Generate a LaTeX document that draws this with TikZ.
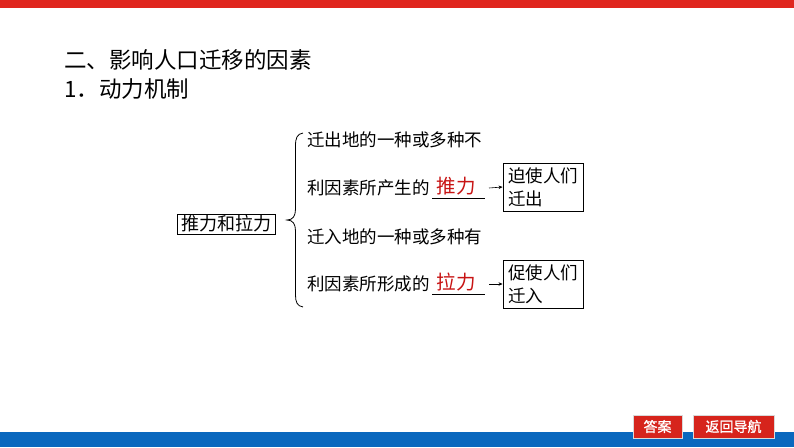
\documentclass[tikz,border=0pt]{standalone}
\usepackage{fontspec}
\newfontfamily\cjk{Noto Sans CJK SC}
\newfontfamily\cjkb[FakeBold=1.2]{Noto Sans CJK SC}
\usetikzlibrary{arrows.meta}
\definecolor{topred}{RGB}{224,38,30}
\definecolor{botblue}{RGB}{10,104,190}
\definecolor{btnred}{RGB}{214,36,28}
\definecolor{ansred}{RGB}{200,20,20}
\tikzset{
  txt/.style={anchor=west,inner sep=0pt,font=\cjk\fontsize{17.5}{20}\selectfont},
  title/.style={anchor=west,inner sep=0pt,font=\cjk\fontsize{22.5}{26}\selectfont},
  ans/.style={inner sep=0pt,text=ansred,font=\cjk\fontsize{19.5}{22}\selectfont},
  resbox/.style={draw,line width=0.9pt,text width=70pt,inner xsep=5pt,minimum height=48pt,inner ysep=0pt,align=left,font=\cjk\fontsize{17.5}{23}\selectfont},
  btn/.style={fill=btnred,draw=white!85!black,line width=0.8pt,text=white,minimum height=23pt,inner sep=0pt,font=\cjkb\fontsize{14}{16}\selectfont},
  conn/.style={line width=0.6pt,-{Stealth[length=4pt,width=3.5pt]}},
  uline/.style={line width=0.7pt}
}
\begin{document}
\begin{tikzpicture}[x=1pt,y=-1pt]
\useasboundingbox (0,0) rectangle (794,447);
\fill[white] (0,0) rectangle (794,447);
% bars
\fill[topred] (0,0) rectangle (794,8);
\fill[botblue] (0,432) rectangle (794,447);
% buttons
\node[btn,minimum width=49pt] (btnA) at (657.5,426.5) {答案};
\node[btn,minimum width=81pt] (btnB) at (733.5,426.5) {返回导航};
% titles
\node[title] (t1) at (64,60) {二、影响人口迁移的因素};
\node[title] (t2) at (64,89) {1．动力机制};
% main box
\node[draw,line width=0.9pt,minimum width=98pt,minimum height=20pt,inner sep=0pt,font=\cjk\fontsize{18}{20}\selectfont] (main) at (226,224) {推力和拉力};
% brace
\draw[line width=0.8pt] (303,133) .. controls (297,134) and (295.5,138) .. (295.5,146) -- (295.5,209) .. controls (295.5,216) and (293,220) .. (287,220) .. controls (293,220) and (295.5,224) .. (295.5,231) -- (295.5,295) .. controls (295.5,302) and (297,306) .. (303,307);
% lines of text
\node[txt] (l1) at (307,140) {迁出地的一种或多种不};
\node[txt] (l2) at (307,188) {利因素所产生的};
\node[txt] (l3) at (307,237) {迁入地的一种或多种有};
\node[txt] (l4) at (307,284) {利因素所形成的};
% answers
\coordinate (u1a) at (432,198);
\coordinate (u1b) at (485,198);
\draw[uline] (u1a) -- (u1b);
\node[ans] (a1) at (456,186) {推力};
\coordinate (u2a) at (432,294);
\coordinate (u2b) at (485,294);
\draw[uline] (u2a) -- (u2b);
\node[ans] (a2) at (456,282) {拉力};
% result boxes
\node[resbox] (r1) at (543,187) {迫使人们\\迁出};
\node[resbox] (r2) at (543,284) {促使人们\\迁入};
% arrows
\coordinate (s1) at (489,188);
\coordinate (s2) at (489,284);
\draw[conn] (s1) -- (r1.west);
\draw[conn] (s2) -- (r2.west);
\end{tikzpicture}
\end{document}
